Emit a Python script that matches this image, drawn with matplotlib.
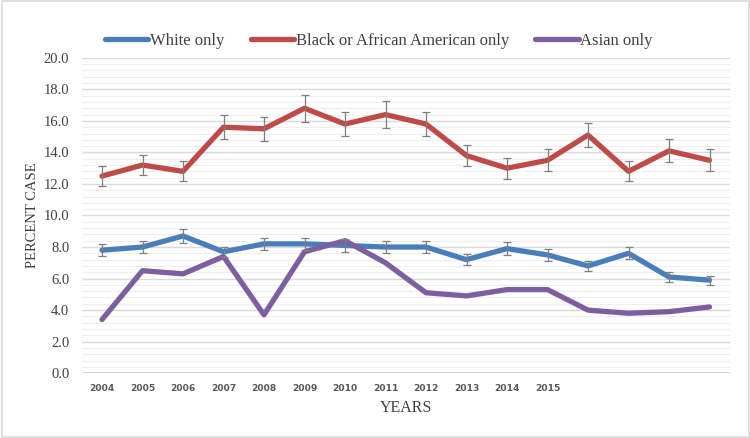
import numpy as np
import matplotlib
matplotlib.use("Agg")
import matplotlib.pyplot as plt
from matplotlib.ticker import MultipleLocator
from matplotlib.patches import Rectangle

# Data
years = [str(y) for y in range(2004, 2020)]
tick_labels = ['2004', '2005', '2006', '2007', '2008', '2009', '2010', '2011',
               '2012', '2013', '2014', '2015', '', '', '', '']

white = [7.8, 8.0, 8.7, 7.7, 8.2, 8.2, 8.1, 8.0, 8.0, 7.2, 7.9, 7.5, 6.8, 7.6, 6.1, 5.9]
white_err = [0.39, 0.39, 0.42, 0.32, 0.40, 0.40, 0.39, 0.39, 0.39, 0.36, 0.40, 0.37,
             0.33, 0.38, 0.31, 0.29]

black = [12.5, 13.2, 12.8, 15.6, 15.5, 16.8, 15.8, 16.4, 15.8, 13.8, 13.0, 13.5,
         15.1, 12.8, 14.1, 13.5]
black_err = [0.61, 0.66, 0.63, 0.78, 0.75, 0.85, 0.79, 0.83, 0.79, 0.69, 0.66, 0.69,
             0.75, 0.63, 0.72, 0.69]

asian = [3.4, 6.5, 6.3, 7.4, 3.7, 7.7, 8.4, 7.0, 5.1, 4.9, 5.3, 5.3, 4.0, 3.8, 3.9, 4.2]

fig = plt.figure(figsize=(7.5, 4.38), dpi=100)
ax = fig.add_axes([0.109, 0.148, 0.864, 0.72])

x = np.arange(len(years))
err_kw = dict(fmt='none', ecolor='#7f7f7f', elinewidth=0.9, capsize=3, capthick=0.9, zorder=4)

ax.plot(x, white, color='#4a7ebb', lw=3.8, solid_capstyle='round', label='White only', zorder=3)
ax.errorbar(x, white, yerr=white_err, **err_kw)
ax.plot(x, black, color='#be4b48', lw=3.8, solid_capstyle='round',
        label='Black or African American only', zorder=3)
ax.errorbar(x, black, yerr=black_err, **err_kw)
ax.plot(x, asian, color='#7d5fa0', lw=3.8, solid_capstyle='round', label='Asian only', zorder=3)

ax.set_xlim(-0.5, len(years) - 0.5)
ax.set_ylim(0, 20)
ax.yaxis.set_major_locator(MultipleLocator(2))
ax.yaxis.set_minor_locator(MultipleLocator(0.4))
ax.set_yticks(np.arange(0, 20.1, 2))
ax.set_yticklabels([f'{v:.1f}' for v in np.arange(0, 20.1, 2)],
                   fontfamily='Liberation Serif', fontsize=10.5, color='#404040')
ax.set_xticks(x)
ax.set_xticklabels(tick_labels, fontfamily='DejaVu Sans', fontweight='bold',
                   fontsize=6.6, color='#595959')

ax.grid(which='major', axis='y', color='#d9d9d9', lw=1.0, zorder=0)
ax.grid(which='minor', axis='y', color='#eeeeee', lw=0.8, zorder=0)
ax.axhline(0, color='#d0d0d0', lw=1.2, zorder=1)
ax.tick_params(axis='both', which='both', length=0)
ax.tick_params(axis='x', pad=8)
ax.tick_params(axis='y', pad=9)
for s in ax.spines.values():
    s.set_visible(False)

ax.set_xlabel('YEARS', fontfamily='Liberation Serif', fontsize=11.5, color='#404040', labelpad=5)
ax.set_ylabel('PERCENT CASE', fontfamily='Liberation Serif', fontsize=10.5, color='#404040', labelpad=3)

leg = fig.legend(loc='upper center', bbox_to_anchor=(0.505, 0.96), ncol=3, frameon=False,
                 handlelength=2.6, handletextpad=0.1, columnspacing=1.6,
                 prop={'family': 'Liberation Serif', 'size': 12})
for t in leg.get_texts():
    t.set_color('#404040')

# light outer border
fig.patches.append(Rectangle((0.002, 0.003), 0.996, 0.994, transform=fig.transFigure,
                             fill=False, edgecolor='#d9d9d9', lw=1.2))

fig.savefig('out.png', dpi=100)
